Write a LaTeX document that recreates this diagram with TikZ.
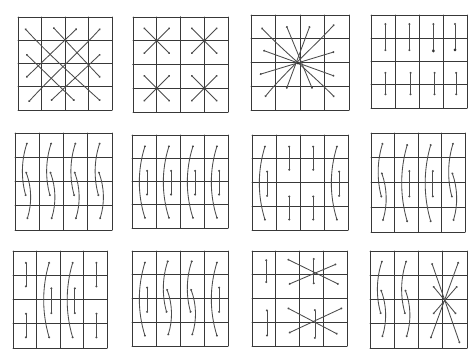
\documentclass[tikz,border=0pt]{standalone}
\usetikzlibrary{arrows.meta}
\begin{document}
\begin{tikzpicture}[x=1pt,y=-1pt]
\tikzset{
 gridln/.style={draw=black!78, line width=0.75pt, line cap=round},
 st/.style={draw=black!70, line width=0.85pt, {Circle[length=1.9pt]}-{Circle[length=1.9pt]}},
}
\fill[white] (0,0) rectangle (471,353);
\useasboundingbox (0,0) rectangle (471,353);
\newcommand\pgrid{\foreach \i in {0,...,4}{\draw[gridln] (\i,0)--(\i,4); \draw[gridln] (0,\i)--(4,\i);}}
% arc: x1 y1 x2 y2 bow
\newcommand\arcv[5]{\draw[st] ({#1},{#2}) .. controls ({(#1)+(#5)+((#3)-(#1))/3},{(#2)+((#4)-(#2))/3}) and ({(#1)+(#5)+2*((#3)-(#1))/3},{(#2)+2*((#4)-(#2))/3}) .. ({#3},{#4});}
\newcommand\vseg[3]{\draw[st] ({#1},{#2}) -- ({#1},{#3});}
% column patterns
\newcommand\colA[1]{\arcv{#1+0.5}{0.4}{#1+0.45}{2.6}{-0.22}\arcv{#1+0.45}{1.6}{#1+0.5}{3.55}{0.22}}
\newcommand\colB[1]{\arcv{#1+0.55}{0.45}{#1+0.55}{3.6}{-0.32}\vseg{#1+0.63}{1.5}{2.6}}
\newcommand\colC[1]{\vseg{#1+0.55}{0.45}{1.5}\vseg{#1+0.55}{2.55}{3.6}}

% Panel 1
\begin{scope}[shift={(18,17)},x=23.5pt,y=-23.25pt]
\pgrid
\draw[st] (1.5,0.45) -- (3.5,2.6);
\draw[st] (0.3,0.5) .. controls (1.2,1.5) and (2.4,2.6) .. (3.5,3.6);
\draw[st] (0.35,1.6) -- (2.4,3.6);
\draw[st] (3.5,0.5) .. controls (2.6,1.5) and (1.4,2.6) .. (0.45,3.65);
\draw[st] (2.5,0.5) -- (0.35,2.6);
\draw[st] (3.5,1.6) -- (1.4,3.6);
\end{scope}

% Panel 2
\begin{scope}[shift={(133,17)},x=23.75pt,y=-23.75pt]
\pgrid
\draw[gridln,line width=1.1pt] (2,0)--(2,4) (0,2)--(4,2);
\foreach \cx/\cy in {1/1,3/1,1/3,3/3}{
 \draw[st] (\cx-0.55,\cy-0.55) -- (\cx+0.55,\cy+0.55);
 \draw[st] (\cx+0.55,\cy-0.55) -- (\cx-0.55,\cy+0.55);
 \fill[black!75] (\cx,\cy) circle (1.3pt);
}
\end{scope}

% Panel 3
\begin{scope}[shift={(251,15)},x=24.5pt,y=-23.75pt]
\pgrid
\draw[st] (0.43,0.54) .. controls (1.2,1.4) and (2.5,2.5) .. (3.4,3.45);
\draw[st] (3.4,0.4) .. controls (2.6,1.3) and (1.3,2.5) .. (0.57,3.45);
\draw[st] (1.45,0.47) -- (2.5,3.1);
\draw[st] (2.4,0.47) -- (1.45,3.1);
\draw[st] (0.5,1.49) -- (3.4,2.57);
\draw[st] (0.36,2.5) -- (3.4,1.55);
\fill[black!80] (1.92,2.03) circle (1.4pt);
\end{scope}

% Panel 4
\begin{scope}[shift={(371,15)},x=24pt,y=-23.25pt]
\pgrid
\foreach \x in {0.6,1.6,2.6,3.5}{\vseg{\x}{0.35}{1.55}}
\foreach \x in {0.6,1.65,2.65,3.55}{\vseg{\x}{2.45}{3.45}}
\fill[black!80] (2.6,1.55) circle (1.5pt) (3.5,1.5) circle (1.5pt);
\end{scope}

% Panel 5
\begin{scope}[shift={(15,133)},x=24.25pt,y=-24.25pt]
\pgrid
\foreach \c in {0,1,2,3}{\colA{\c}}
\end{scope}

% Panel 6
\begin{scope}[shift={(132,135)},x=24pt,y=-23.25pt]
\pgrid
\foreach \c in {0,1,2,3}{\colB{\c}}
\end{scope}

% Panel 7
\begin{scope}[shift={(252,135)},x=24pt,y=-23.75pt]
\pgrid
\colB{0}\colC{1}\colC{2}\colB{3}
\end{scope}

% Panel 8
\begin{scope}[shift={(371,133)},x=23.5pt,y=-24.75pt]
\pgrid
\colA{0}\colB{1}\colB{2}\colA{3}
\end{scope}

% Panel 9
\begin{scope}[shift={(13,251)},x=23.5pt,y=-24.25pt]
\pgrid
\colC{0}\colB{1}\colB{2}\colC{3}
\end{scope}

% Panel 10
\begin{scope}[shift={(132,251)},x=24pt,y=-23.75pt]
\pgrid
\colB{0}\colA{1}\colA{2}\colB{3}
\end{scope}

% Panel 11
\begin{scope}[shift={(252,251)},x=23.75pt,y=-23.75pt]
\pgrid
\vseg{0.6}{0.35}{1.35}\vseg{0.63}{2.46}{3.6}
\draw[st] (1.5,0.35) -- (3.65,1.4);
\draw[st] (1.55,1.4) -- (3.55,0.55);
\vseg{2.6}{0.3}{1.4}
\draw[st] (1.5,2.4) -- (3.6,3.5);
\draw[st] (1.55,3.45) -- (3.8,2.4);
\vseg{2.65}{2.45}{3.7}
\end{scope}

% Panel 12
\begin{scope}[shift={(370,251)},x=24.25pt,y=-24.25pt]
\pgrid
\colA{0}\colA{1}
\draw[st] (2.55,0.5) -- (3.7,3.8);
\draw[st] (3.65,0.45) -- (2.5,3.6);
\draw[st] (2.6,1.45) -- (3.55,2.6);
\draw[st] (3.6,1.45) -- (2.6,2.6);
\end{scope}
\end{tikzpicture}
\end{document}
